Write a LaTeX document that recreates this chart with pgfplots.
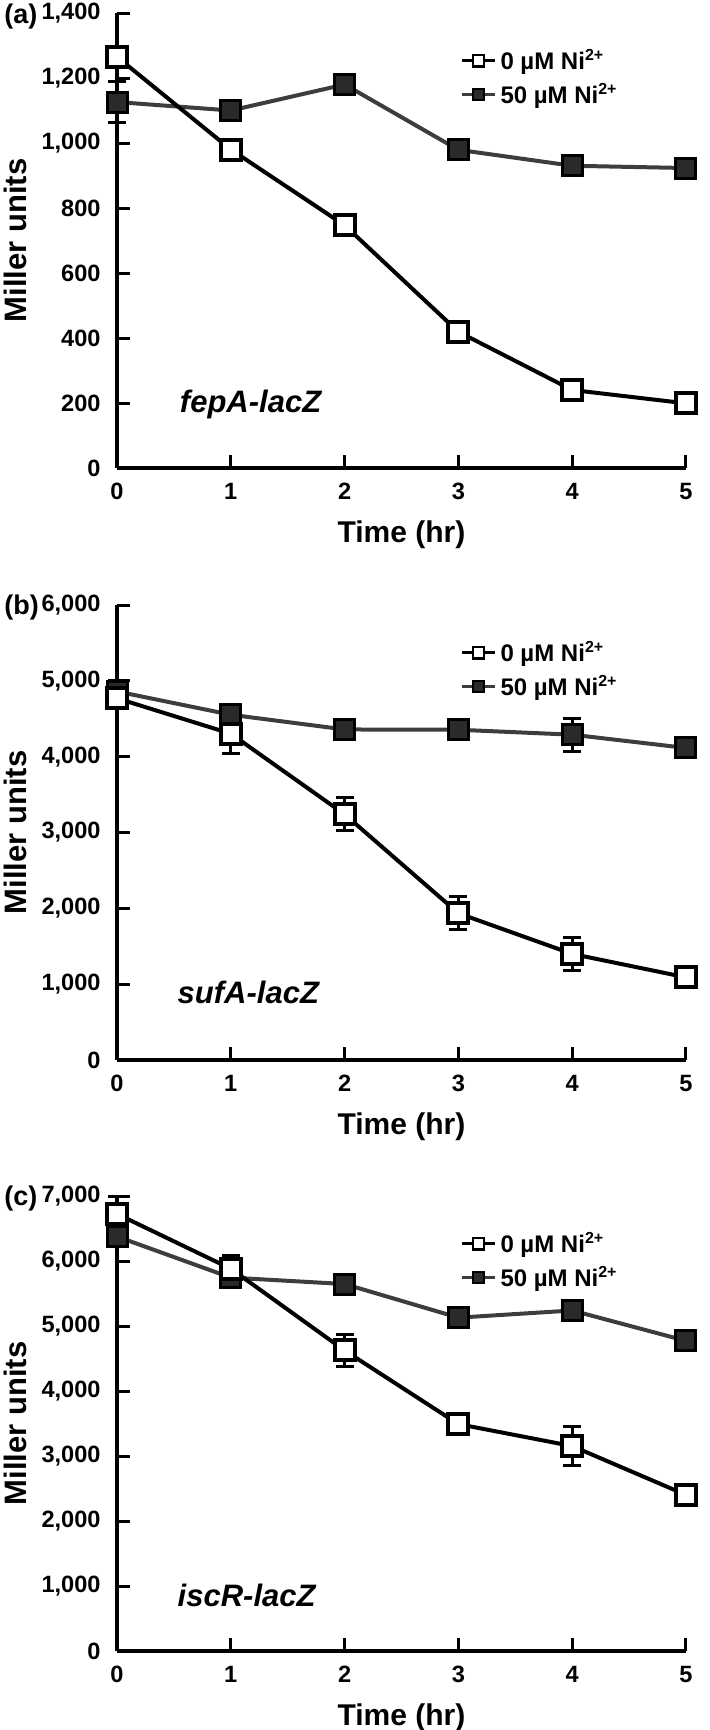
\documentclass[border=0pt]{standalone}
\usepackage{fontspec}
\setmainfont{Liberation Sans}
\usepackage{pgfplots}
\pgfplotsset{compat=1.18}
\definecolor{fillgray}{HTML}{2A2A2A}
\definecolor{linegray}{HTML}{3D3D3D}
\pgfplotsset{
  myaxis/.style={
    scale only axis, width=284.5pt, height=227.5pt, anchor=south west,
    xmin=0, xmax=5, xtick={0,1,2,3,4,5}, clip=false,
    axis x line=bottom, axis y line=left,
    axis line style={-, line width=2pt, black},
    tick style={line width=1.5pt, black}, major tick length=6.5pt, tick align=inside,
    tick label style={font=\bfseries\fontsize{11.8}{12}\selectfont},
    /pgf/number format/.cd, 1000 sep={,}, assume math mode=true, /pgfplots/.cd,
    yticklabel style={inner sep=0pt, xshift=-8pt},
    xticklabel style={inner sep=0pt, yshift=-7.5pt},
    xlabel={Time (hr)}, ylabel={Miller units},
    xlabel style={at={(axis description cs:0.5,-0.147)}, anchor=center, font=\bfseries\fontsize{15}{15}\selectfont},
    ylabel style={at={(axis description cs:-0.179,0.5)}, anchor=center, font=\bfseries\fontsize{15.5}{15}\selectfont},
    legend style={draw=none, fill=none, at={(0.603,0.93)}, anchor=north west, inner sep=0pt,
      row sep=1.5pt, font=\bfseries\fontsize{12}{12.5}\selectfont, cells={anchor=west}},
    legend image code/.code={\draw[mark repeat=2,mark phase=2,#1] plot coordinates {(0pt,0pt) (8.25pt,0pt) (16.5pt,0pt)};},
  },
  filledser/.style={forget plot, draw=linegray, line width=2pt, mark=square*, mark size=5pt,
    mark options={fill=fillgray, draw=black, line width=1.5pt, solid},
    error bars/.cd, y dir=both, y explicit,
    error bar style={line width=1.5pt, black},
    error mark options={rotate=90, mark size=4.5pt, line width=1.5pt, black}},
  openser/.style={forget plot, draw=black, line width=2pt, mark=square*, mark size=5pt,
    mark options={fill=white, draw=black, line width=2pt, solid},
    error bars/.cd, y dir=both, y explicit,
    error bar style={line width=1.5pt, black},
    error mark options={rotate=90, mark size=4.5pt, line width=1.5pt, black}},
}
\newcommand{\legimgs}{%
  \addlegendimage{draw=black, line width=1.5pt, mark=square*, mark size=2.8pt, mark options={fill=white, draw=black, line width=1.3pt, solid}}
  \addlegendentry{0 µM Ni\textsuperscript{2+}}
  \addlegendimage{draw=linegray, line width=1.5pt, mark=square*, mark size=2.8pt, mark options={fill=fillgray, draw=black, line width=1.3pt, solid}}
  \addlegendentry{50 µM Ni\textsuperscript{2+}}
}
\begin{document}
\begin{tikzpicture}[font=\bfseries]
\useasboundingbox (0,0) rectangle (354.5pt,-865pt);
% ---------- (a)
\node[anchor=west, inner sep=0pt, font=\bfseries\fontsize{13.5}{13}\selectfont] at (2pt,-8.5pt) {(a)};
\begin{axis}[myaxis, at={(58.5pt,-234pt)}, ymin=0, ymax=1400, ytick={0,200,...,1400}]
\legimgs
\addplot[filledser] coordinates {
  (0,1126) +- (0,63)
  (1,1100) +- (0,15)
  (2,1180) +- (0,15)
  (3,979) +- (0,15)
  (4,930) +- (0,15)
  (5,923) +- (0,10)
};
\addplot[openser] coordinates {
  (0,1265) +- (0,15)
  (1,980) +- (0,15)
  (2,747) +- (0,15)
  (3,419) +- (0,15)
  (4,240) +- (0,15)
  (5,199) +- (0,10)
};
\node[anchor=west, inner sep=0pt, font=\bfseries\itshape\fontsize{15.5}{15}\selectfont] at (axis cs:0.55,194) {fepA-lacZ};
\end{axis}
% ---------- (b)
\node[anchor=west, inner sep=0pt, font=\bfseries\fontsize{13.5}{13}\selectfont] at (2pt,-304pt) {(b)};
\begin{axis}[myaxis, at={(58.5pt,-530pt)}, ymin=0, ymax=6000, ytick={0,1000,...,6000}]
\legimgs
\addplot[filledser] coordinates {
  (0,4860) +- (0,140)
  (1,4553) +- (0,40)
  (2,4359) +- (0,40)
  (3,4355) +- (0,40)
  (4,4290) +- (0,220)
  (5,4115) +- (0,40)
};
\addplot[openser] coordinates {
  (0,4770) +- (0,50)
  (1,4303) +- (0,260)
  (2,3240) +- (0,217)
  (3,1935) +- (0,220)
  (4,1399) +- (0,220)
  (5,1090) +- (0,40)
};
\node[anchor=west, inner sep=0pt, font=\bfseries\itshape\fontsize{15.5}{15}\selectfont] at (axis cs:0.53,895) {sufA-lacZ};
\end{axis}
% ---------- (c)
\node[anchor=west, inner sep=0pt, font=\bfseries\fontsize{13.5}{13}\selectfont] at (2pt,-599.5pt) {(c)};
\begin{axis}[myaxis, at={(58.5pt,-825.5pt)}, ymin=0, ymax=7000, ytick={0,1000,...,7000}]
\legimgs
\addplot[filledser] coordinates {
  (0,6377) +- (0,100)
  (1,5745) +- (0,60)
  (2,5646) +- (0,60)
  (3,5129) +- (0,60)
  (4,5239) +- (0,60)
  (5,4772) +- (0,60)
};
\addplot[openser] coordinates {
  (0,6724) +- (0,276)
  (1,5882) +- (0,209)
  (2,4624) +- (0,242)
  (3,3491) +- (0,50)
  (4,3153) +- (0,294)
  (5,2402) +- (0,50)
};
\node[anchor=west, inner sep=0pt, font=\bfseries\itshape\fontsize{15.5}{15}\selectfont] at (axis cs:0.53,860) {iscR-lacZ};
\end{axis}
\end{tikzpicture}
\end{document}
